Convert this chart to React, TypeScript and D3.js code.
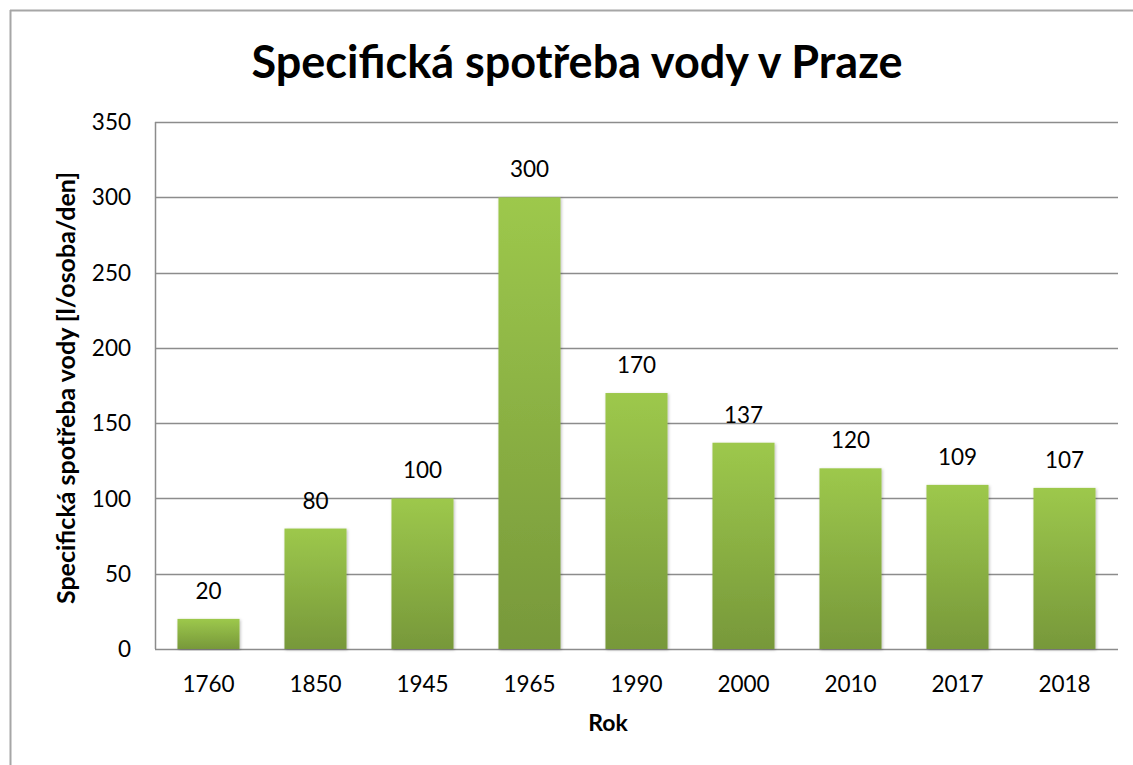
import React from "react";
import * as d3 from "d3";

const years = ["1760", "1850", "1945", "1965", "1990", "2000", "2010", "2017", "2018"];
const values = [20, 80, 100, 300, 170, 137, 120, 109, 107];
const yTicks = [0, 50, 100, 150, 200, 250, 300, 350];

const W = 1133, H = 765;
const M = { left: 155, right: 1118, top: 122, bottom: 649 };
const FONT = "Lato, 'Open Sans', 'Noto Sans', sans-serif";

export default function App() {
  const x = d3.scaleBand<string>().domain(years).range([M.left, M.right]).paddingInner(0.42).paddingOuter(0.21);
  const y = d3.scaleLinear().domain([0, 350]).range([M.bottom, M.top]);
  return (
    <svg width={W} height={H} style={{ position: "absolute", left: 0, top: 0, background: "#fff" }} fontFamily={FONT}>
      <defs>
        <linearGradient id="barGrad" x1="0" y1="0" x2="0" y2="1">
          <stop offset="0" stopColor="#9dc84c" />
          <stop offset="1" stopColor="#77983a" />
        </linearGradient>
        <filter id="shadow" x="-20%" y="-5%" width="140%" height="110%">
          <feDropShadow dx="1" dy="1" stdDeviation="1.5" floodColor="#000" floodOpacity="0.25" />
        </filter>
      </defs>
      <rect x={0} y={0} width={W} height={H} fill="#fff" />
      <line x1={10.5} y1={10} x2={10.5} y2={H} stroke="#a6a6a6" strokeWidth={2} />
      <line x1={10} y1={10.5} x2={W} y2={10.5} stroke="#a6a6a6" strokeWidth={2} />
      <text x={577} y={78} textAnchor="middle" fontSize={45} fontWeight="bold" fill="#000">
        Specifická spotřeba vody v Praze
      </text>
      {yTicks.map((t) => (
        <g key={t}>
          <line x1={M.left} x2={M.right} y1={Math.round(y(t)) + 0.5} y2={Math.round(y(t)) + 0.5} stroke="#8c8c8c" strokeWidth={1.5} />
          <text x={131} y={y(t)} dy="0.36em" textAnchor="end" fontSize={22.5} fill="#000">{t}</text>
        </g>
      ))}
      <line x1={M.left + 0.5} x2={M.left + 0.5} y1={M.top} y2={M.bottom} stroke="#8c8c8c" strokeWidth={1.5} />
      {years.map((yr, i) => (
        <g key={yr}>
          <rect x={x(yr)} y={y(values[i])} width={x.bandwidth()} height={M.bottom - y(values[i])} fill="url(#barGrad)" filter="url(#shadow)" />
          <text x={(x(yr) as number) + x.bandwidth() / 2} y={y(values[i]) - 20} textAnchor="middle" fontSize={22.5} fill="#000">{values[i]}</text>
          <text x={(x(yr) as number) + x.bandwidth() / 2} y={692} textAnchor="middle" fontSize={22.5} fill="#000">{yr}</text>
        </g>
      ))}
      <text x={608} y={731} textAnchor="middle" fontSize={23} fontWeight="bold" fill="#000">Rok</text>
      <text transform={`translate(75,388) rotate(-90)`} textAnchor="middle" fontSize={25} fontWeight="bold" fill="#000">
        Specifická spotřeba vody [l/osoba/den]
      </text>
    </svg>
  );
}
